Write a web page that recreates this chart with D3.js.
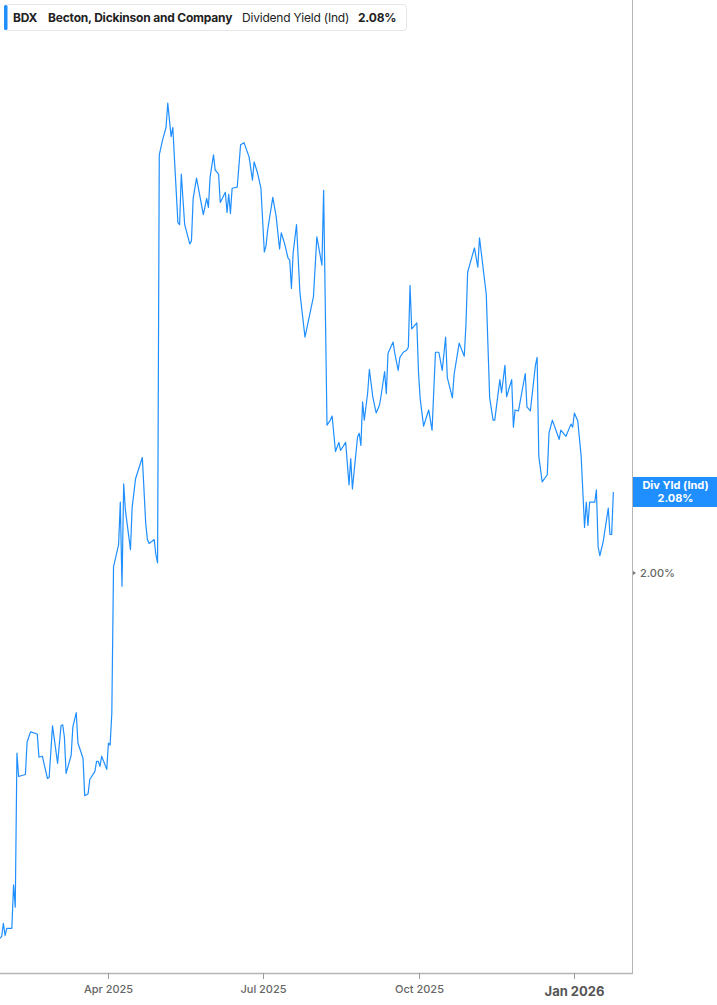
<!DOCTYPE html>
<html>
<head>
<meta charset="utf-8">
<script src="https://cdn.jsdelivr.net/npm/d3@7"></script>
<style>
  html, body { margin: 0; padding: 0; background: #fff; }
  svg { display: block; font-family: Inter, "Noto Sans", sans-serif; }
</style>
</head>
<body>
<svg id="chart" width="717" height="1005"></svg>
<script>
// ---- data ----
const dates = [
"2025-01-27","2025-01-28","2025-01-29","2025-01-30","2025-01-31","2025-02-03","2025-02-04","2025-02-05","2025-02-06","2025-02-07",
"2025-02-11","2025-02-12","2025-02-14","2025-02-18","2025-02-19","2025-02-21","2025-02-24","2025-02-25","2025-02-27","2025-03-02",
"2025-03-04","2025-03-05","2025-03-06","2025-03-07","2025-03-10","2025-03-11","2025-03-13","2025-03-14","2025-03-17","2025-03-18",
"2025-03-20","2025-03-21","2025-03-24","2025-03-25","2025-03-26","2025-03-27","2025-03-28","2025-03-31","2025-04-01","2025-04-02",
"2025-04-03","2025-04-04","2025-04-07","2025-04-08","2025-04-09","2025-04-10","2025-04-11","2025-04-14","2025-04-15","2025-04-17",
"2025-04-21","2025-04-23","2025-04-24","2025-04-25","2025-04-28","2025-04-29","2025-04-30","2025-05-01","2025-05-03","2025-05-05",
"2025-05-06","2025-05-08","2025-05-09","2025-05-10","2025-05-12","2025-05-13","2025-05-14","2025-05-16","2025-05-19","2025-05-20",
"2025-05-21","2025-05-23","2025-05-27","2025-05-29","2025-05-30","2025-05-31","2025-06-02","2025-06-03","2025-06-05","2025-06-06",
"2025-06-09","2025-06-10","2025-06-11","2025-06-12","2025-06-13","2025-06-16","2025-06-18","2025-06-20","2025-06-23","2025-06-25",
"2025-06-26","2025-06-28","2025-06-30","2025-07-02","2025-07-03","2025-07-04","2025-07-07","2025-07-09","2025-07-11","2025-07-12",
"2025-07-14","2025-07-16","2025-07-17","2025-07-18","2025-07-19","2025-07-21","2025-07-23","2025-07-26","2025-07-29","2025-07-31",
"2025-08-02","2025-08-05","2025-08-06","2025-08-08","2025-08-10","2025-08-11","2025-08-13","2025-08-15","2025-08-16","2025-08-19",
"2025-08-21","2025-08-22","2025-08-23","2025-08-26","2025-08-27","2025-08-28","2025-08-29","2025-08-30","2025-09-01","2025-09-02",
"2025-09-04","2025-09-06","2025-09-08","2025-09-09","2025-09-11","2025-09-12","2025-09-13","2025-09-16","2025-09-17","2025-09-19",
"2025-09-20","2025-09-22","2025-09-24","2025-09-25","2025-09-26","2025-09-27","2025-09-30","2025-10-01","2025-10-02","2025-10-04",
"2025-10-07","2025-10-09","2025-10-11","2025-10-13","2025-10-15","2025-10-17","2025-10-18","2025-10-21","2025-10-22","2025-10-25",
"2025-10-28","2025-10-29","2025-10-30","2025-10-31","2025-11-03","2025-11-05","2025-11-06","2025-11-07","2025-11-10","2025-11-12",
"2025-11-14","2025-11-15","2025-11-18","2025-11-19","2025-11-21","2025-11-22","2025-11-25","2025-11-26","2025-11-27","2025-11-29",
"2025-12-03","2025-12-04","2025-12-06","2025-12-09","2025-12-10","2025-12-11","2025-12-13","2025-12-16","2025-12-17","2025-12-19",
"2025-12-23","2025-12-24","2025-12-27","2025-12-30","2025-12-31","2026-01-01","2026-01-03","2026-01-05","2026-01-07","2026-01-08",
"2026-01-09","2026-01-10","2026-01-13","2026-01-14","2026-01-15","2026-01-16","2026-01-18","2026-01-21","2026-01-22","2026-01-23",
"2026-01-24"
];
const divYield = [
1.639,1.641,1.654,1.642,1.649,1.649,1.692,1.670,1.822,1.799,
1.801,1.833,1.843,1.841,1.818,1.819,1.797,1.798,1.849,1.812,
1.849,1.850,1.838,1.802,1.820,1.848,1.862,1.832,1.817,1.780,
1.782,1.796,1.804,1.814,1.814,1.809,1.819,1.806,1.832,1.830,
1.862,2.006,2.028,2.070,1.987,2.088,2.062,2.023,2.065,2.093,
2.114,2.049,2.033,2.029,2.033,2.018,2.010,2.413,2.428,2.440,
2.464,2.431,2.440,2.408,2.346,2.344,2.394,2.344,2.325,2.328,
2.370,2.390,2.354,2.370,2.361,2.391,2.413,2.398,2.394,2.366,
2.376,2.356,2.374,2.355,2.380,2.381,2.423,2.425,2.411,2.388,
2.406,2.395,2.380,2.317,2.323,2.339,2.371,2.352,2.320,2.336,
2.325,2.311,2.309,2.281,2.316,2.344,2.277,2.233,2.257,2.273,
2.332,2.304,2.378,2.146,2.151,2.155,2.120,2.129,2.121,2.129,
2.087,2.113,2.083,2.134,2.138,2.126,2.169,2.151,2.178,2.201,
2.174,2.158,2.166,2.176,2.199,2.177,2.217,2.228,2.217,2.200,
2.213,2.218,2.220,2.223,2.284,2.241,2.247,2.198,2.172,2.145,
2.161,2.141,2.218,2.218,2.200,2.233,2.193,2.173,2.196,2.227,
2.214,2.245,2.297,2.303,2.321,2.302,2.331,2.317,2.275,2.173,
2.151,2.151,2.191,2.178,2.205,2.174,2.191,2.144,2.161,2.160,
2.197,2.164,2.160,2.205,2.213,2.115,2.090,2.097,2.138,2.151,
2.132,2.141,2.135,2.147,2.144,2.158,2.150,2.115,2.045,2.070,
2.047,2.070,2.070,2.082,2.026,2.017,2.031,2.064,2.038,2.038,
2.080
];
const xTickDates = ["2025-04-01","2025-07-01","2025-10-01","2026-01-01"];
const xTickLabels = ["Apr 2025","Jul 2025","Oct 2025","Jan 2026"];
const yTickValues = [2.00];
const ticker = "BDX";
const companyName = "Becton, Dickinson and Company";
const metricName = "Dividend Yield (Ind)";
const lastLabel = "Div Yld (Ind)";
const lastValue = 2.08;

// ---- chart ----
const parse = d3.timeParse("%Y-%m-%d");
const data = dates.map((d, i) => ({ date: parse(d), value: divYield[i] }));

const svg = d3.select("#chart");
const plotLeft = 0, plotRight = 632, plotTop = 0, plotBottom = 973;
const blue = "#1f8fff";

const x = d3.scaleTime()
  .domain([parse("2025-01-27"), parse("2026-02-04")])
  .range([plotLeft, plotRight]);
const y = d3.scaleLinear()
  .domain([1.6049, 2.5659])
  .range([plotBottom, plotTop]);

// right border
svg.append("line")
  .attr("x1", plotRight + 0.5).attr("x2", plotRight + 0.5)
  .attr("y1", 0).attr("y2", plotBottom)
  .attr("stroke", "#b5b5b5").attr("stroke-width", 1);

// bottom axis
const xAxis = svg.append("g").attr("transform", `translate(0,${plotBottom})`);
xAxis.append("line")
  .attr("x1", plotLeft).attr("x2", plotRight + 1)
  .attr("y1", 0.5).attr("y2", 0.5)
  .attr("stroke", "#b5b5b5").attr("stroke-width", 1.5);
xTickDates.forEach((d, i) => {
  const px = Math.round(x(parse(d))) + 0.5;
  xAxis.append("line")
    .attr("x1", px).attr("x2", px).attr("y1", 0).attr("y2", 6)
    .attr("stroke", "#9a9a9a").attr("stroke-width", 1);
  const isYear = d.endsWith("-01-01");
  xAxis.append("text")
    .attr("x", px).attr("y", isYear ? 23 : 20)
    .attr("text-anchor", "middle")
    .attr("font-size", isYear ? 13 : 11)
    .attr("font-weight", isYear ? 700 : 500)
    .attr("fill", isYear ? "#555" : "#666")
    .text(xTickLabels[i]);
});

// right axis ticks
yTickValues.forEach(v => {
  const py = y(v);
  svg.append("path")
    .attr("d", `M${plotRight + 1},${py - 2} L${plotRight + 4},${py} L${plotRight + 1},${py + 2} Z`)
    .attr("fill", "#777");
  svg.append("text")
    .attr("x", plotRight + 8).attr("y", py + 4)
    .attr("font-size", 11).attr("font-weight", 500)
    .attr("fill", "#666")
    .text(v.toFixed(2) + "%");
});

// line
const line = d3.line().x(d => x(d.date)).y(d => y(d.value));
svg.append("path")
  .datum(data)
  .attr("d", line)
  .attr("fill", "none")
  .attr("stroke", blue)
  .attr("stroke-width", 1.2)
  .attr("stroke-linejoin", "round");

// last value label
const ly = y(lastValue);
svg.append("rect")
  .attr("x", plotRight + 1).attr("y", ly - 15)
  .attr("width", 717 - plotRight - 1).attr("height", 30)
  .attr("fill", blue);
svg.append("text")
  .attr("x", (plotRight + 717) / 2 + 1).attr("y", ly - 3)
  .attr("text-anchor", "middle").attr("font-size", 11).attr("font-weight", 700)
  .attr("fill", "#fff").text(lastLabel);
svg.append("text")
  .attr("x", (plotRight + 717) / 2 + 1).attr("y", ly + 10)
  .attr("text-anchor", "middle").attr("font-size", 11).attr("font-weight", 700)
  .attr("fill", "#fff").text(lastValue.toFixed(2) + "%");

// legend
const lg = svg.append("g");
lg.append("rect")
  .attr("x", 4.5).attr("y", 4.5).attr("width", 402).attr("height", 26)
  .attr("rx", 3).attr("fill", "#fff").attr("stroke", "#e6e6e6");
lg.append("rect")
  .attr("x", 4).attr("y", 5).attr("width", 3.5).attr("height", 25)
  .attr("rx", 1.5).attr("fill", blue);
const legendItems = [
  { t: ticker, x: 13, w: 700 },
  { t: companyName, x: 48, w: 700 },
  { t: metricName, x: 242, w: 400 },
  { t: lastValue.toFixed(2) + "%", x: 358, w: 700 }
];
legendItems.forEach(it => {
  lg.append("text")
    .attr("x", it.x).attr("y", 21.5)
    .attr("font-size", 12).attr("font-weight", it.w)
    .attr("fill", "#222").attr("letter-spacing", "-0.2")
    .text(it.t);
});
</script>
</body>
</html>
